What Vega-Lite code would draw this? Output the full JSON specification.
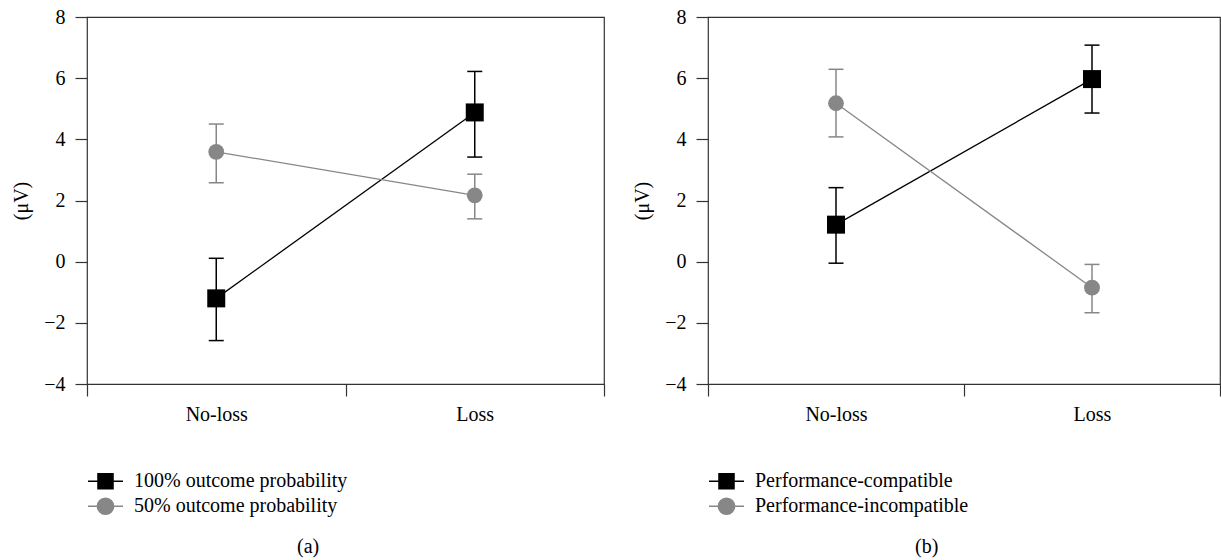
{
  "$schema": "https://vega.github.io/schema/vega-lite/v6.json",
  "autosize": {"type": "pad"},
  "padding": {"left": 11, "top": 6, "right": 0, "bottom": 0},
  "background": "white",
  "config": {
    "font": "Liberation Serif",
    "view": {"stroke": "#333333", "strokeWidth": 1.2},
    "axis": {
      "labelFont": "Liberation Serif",
      "titleFont": "Liberation Serif",
      "labelFontSize": 20,
      "labelColor": "#000000",
      "tickColor": "#333333",
      "tickWidth": 1.2,
      "tickSize": 12,
      "titleColor": "#000000",
      "titleFontSize": 20,
      "titleFontWeight": "normal",
      "grid": false,
      "domain": false
    },
    "legend": {"labelFont": "Liberation Serif"},
    "title": {"fontSize": 20, "fontWeight": "normal", "color": "#000000", "font": "Liberation Serif"}
  },
  "datasets": {
    "a": [
      {"condition": "No-loss", "series": "100% outcome probability", "mean": -1.2, "lo": -2.58, "hi": 0.11},
      {"condition": "Loss", "series": "100% outcome probability", "mean": 4.88, "lo": 3.42, "hi": 6.22},
      {"condition": "No-loss", "series": "50% outcome probability", "mean": 3.59, "lo": 2.58, "hi": 4.5},
      {"condition": "Loss", "series": "50% outcome probability", "mean": 2.17, "lo": 1.4, "hi": 2.86}
    ],
    "b": [
      {"condition": "No-loss", "series": "Performance-compatible", "mean": 1.21, "lo": -0.05, "hi": 2.42},
      {"condition": "Loss", "series": "Performance-compatible", "mean": 5.97, "lo": 4.86, "hi": 7.08},
      {"condition": "No-loss", "series": "Performance-incompatible", "mean": 5.18, "lo": 4.08, "hi": 6.29},
      {"condition": "Loss", "series": "Performance-incompatible", "mean": -0.85, "lo": -1.67, "hi": -0.09}
    ]
  },
  "spacing": 26,
  "resolve": {
    "scale": {"color": "independent", "x": "independent", "y": "independent"},
    "legend": {"color": "independent"}
  },
  "hconcat": [
    {
      "width": 517,
      "height": 367,
      "data": {"name": "a"},
      "title": {"text": "(a)", "orient": "bottom", "anchor": "middle", "frame": "bounds", "offset": 18, "font": "Liberation Serif"},
      "encoding": {
        "x": {"field": "condition", "type": "nominal", "sort": ["No-loss", "Loss"],
          "scale": {"type": "band", "paddingInner": 0, "paddingOuter": 0},
          "axis": {"title": null, "labelAngle": 0, "tickBand": "extent", "labelPadding": 8, "labelFont": "Liberation Serif"}},
        "color": {"field": "series", "type": "nominal",
          "scale": {"domain": ["100% outcome probability", "50% outcome probability"], "range": ["#000000", "#878787"]},
          "legend": {"orient": "none", "legendX": 0, "legendY": 452, "title": null, "direction": "vertical",
            "symbolSize": 1225, "clipHeight": 24.5, "rowPadding": 0, "labelOffset": 10, "labelFontSize": 20,
            "labelFont": "Liberation Serif", "labelLimit": 0,
            "labelColor": "#000000", "symbolStrokeWidth": 1.5, "padding": 0,
            "encode": {"symbols": {"update": {
              "shape": {"signal": "datum.index === 0 ? 'M-1,0H1M-0.43,-0.43H0.43V0.43H-0.43Z' : 'M-1,0H1M0.46,0A0.46,0.46,0,1,1,-0.46,0A0.46,0.46,0,1,1,0.46,0Z'"},
              "stroke": {"signal": "datum.index === 0 ? '#000000' : '#878787'"},
              "fill": {"signal": "datum.index === 0 ? '#000000' : '#878787'"},
              "strokeWidth": {"value": 1.5},
              "opacity": {"value": 1}}}}}}
      },
      "layer": [
        {"mark": {"type": "rule", "strokeWidth": 1.5},
          "encoding": {
            "y": {"field": "lo", "type": "quantitative", "scale": {"domain": [-4, 8], "nice": false, "zero": false},
              "axis": {"title": "(μV)", "values": [-4, -2, 0, 2, 4, 6, 8], "labelPadding": 10, "titlePadding": 12, "labelFont": "Liberation Serif", "titleFont": "Liberation Serif"}},
            "y2": {"field": "hi"}}},
        {"mark": {"type": "tick", "thickness": 1.5, "size": 15, "opacity": 1},
          "encoding": {"y": {"field": "lo", "type": "quantitative"}}},
        {"mark": {"type": "tick", "thickness": 1.5, "size": 15, "opacity": 1},
          "encoding": {"y": {"field": "hi", "type": "quantitative"}}},
        {"mark": {"type": "line", "strokeWidth": 1.3},
          "encoding": {"y": {"field": "mean", "type": "quantitative"}}},
        {"transform": [{"filter": {"field": "series", "equal": "100% outcome probability"}}],
          "mark": {"type": "point", "filled": true, "opacity": 1, "shape": "square", "size": 324},
          "encoding": {"y": {"field": "mean", "type": "quantitative"}}},
        {"transform": [{"filter": {"field": "series", "equal": "50% outcome probability"}}],
          "mark": {"type": "point", "filled": true, "opacity": 1, "shape": "circle", "size": 250},
          "encoding": {"y": {"field": "mean", "type": "quantitative"}}}
      ]
    },
    {
      "width": 512,
      "height": 367,
      "data": {"name": "b"},
      "title": {"text": "(b)", "orient": "bottom", "anchor": "middle", "frame": "bounds", "offset": 18, "font": "Liberation Serif"},
      "encoding": {
        "x": {"field": "condition", "type": "nominal", "sort": ["No-loss", "Loss"],
          "scale": {"type": "band", "paddingInner": 0, "paddingOuter": 0},
          "axis": {"title": null, "labelAngle": 0, "tickBand": "extent", "labelPadding": 8, "labelFont": "Liberation Serif"}},
        "color": {"field": "series", "type": "nominal",
          "scale": {"domain": ["Performance-compatible", "Performance-incompatible"], "range": ["#000000", "#878787"]},
          "legend": {"orient": "none", "legendX": 0, "legendY": 452, "title": null, "direction": "vertical",
            "symbolSize": 1225, "clipHeight": 24.5, "rowPadding": 0, "labelOffset": 10, "labelFontSize": 20,
            "labelFont": "Liberation Serif", "labelLimit": 0,
            "labelColor": "#000000", "symbolStrokeWidth": 1.5, "padding": 0,
            "encode": {"symbols": {"update": {
              "shape": {"signal": "datum.index === 0 ? 'M-1,0H1M-0.43,-0.43H0.43V0.43H-0.43Z' : 'M-1,0H1M0.46,0A0.46,0.46,0,1,1,-0.46,0A0.46,0.46,0,1,1,0.46,0Z'"},
              "stroke": {"signal": "datum.index === 0 ? '#000000' : '#878787'"},
              "fill": {"signal": "datum.index === 0 ? '#000000' : '#878787'"},
              "strokeWidth": {"value": 1.5},
              "opacity": {"value": 1}}}}}}
      },
      "layer": [
        {"mark": {"type": "rule", "strokeWidth": 1.5},
          "encoding": {
            "y": {"field": "lo", "type": "quantitative", "scale": {"domain": [-4, 8], "nice": false, "zero": false},
              "axis": {"title": "(μV)", "values": [-4, -2, 0, 2, 4, 6, 8], "labelPadding": 10, "titlePadding": 12, "labelFont": "Liberation Serif", "titleFont": "Liberation Serif"}},
            "y2": {"field": "hi"}}},
        {"mark": {"type": "tick", "thickness": 1.5, "size": 15, "opacity": 1},
          "encoding": {"y": {"field": "lo", "type": "quantitative"}}},
        {"mark": {"type": "tick", "thickness": 1.5, "size": 15, "opacity": 1},
          "encoding": {"y": {"field": "hi", "type": "quantitative"}}},
        {"mark": {"type": "line", "strokeWidth": 1.3},
          "encoding": {"y": {"field": "mean", "type": "quantitative"}}},
        {"transform": [{"filter": {"field": "series", "equal": "Performance-compatible"}}],
          "mark": {"type": "point", "filled": true, "opacity": 1, "shape": "square", "size": 324},
          "encoding": {"y": {"field": "mean", "type": "quantitative"}}},
        {"transform": [{"filter": {"field": "series", "equal": "Performance-incompatible"}}],
          "mark": {"type": "point", "filled": true, "opacity": 1, "shape": "circle", "size": 250},
          "encoding": {"y": {"field": "mean", "type": "quantitative"}}}
      ]
    }
  ]
}
